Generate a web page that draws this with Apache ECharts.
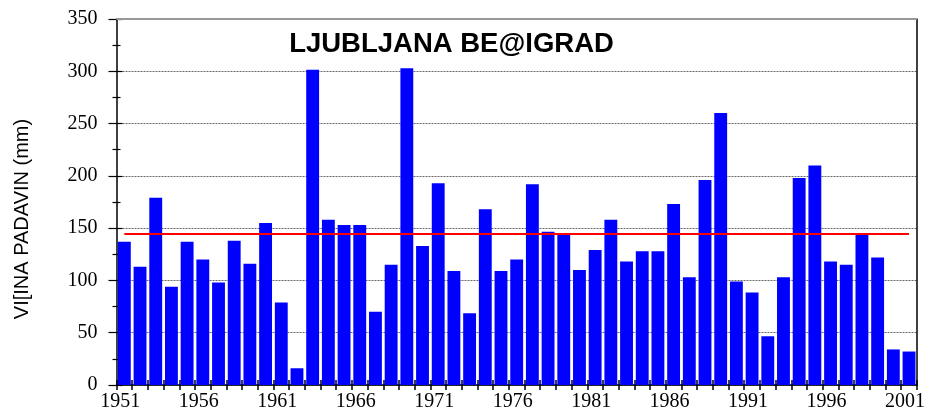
<!DOCTYPE html>
<html>
<head>
<meta charset="utf-8">
<script src="https://cdn.jsdelivr.net/npm/echarts@6/dist/echarts.min.js"></script>
<style>
html,body{margin:0;padding:0;background:#fff;}
#chart{width:928px;height:412px;}
</style>
</head>
<body>
<div id="chart"></div>
<script>
const YEARS = [];
for (let y = 1951; y <= 2001; y++) YEARS.push(String(y));
const PRECIP = [137,113,179,94,137,120,98,138,116,155,
  79,16,301.5,158,153,153,70,115,303,133,
  193,109,68.5,168,109,120,192,146.5,144.6,110,
  129,158,118,128,128,173,103,196,260,99,
  88.5,46.6,103,198,210,118,115,144.6,122,34,32];
const MEAN = 144.6;
const Y_TICKS = [0,50,100,150,200,250,300,350];
const TITLE = 'LJUBLJANA BE@IGRAD';
const Y_NAME = 'VI[INA PADAVIN (mm)';

const chart = echarts.init(document.getElementById('chart'), null, {renderer:'canvas'});
const serif = 'Liberation Serif';
const yMin = Y_TICKS[0], yMax = Y_TICKS[Y_TICKS.length-1], yInt = Y_TICKS[1]-Y_TICKS[0];

chart.setOption({
  animation: false,
  backgroundColor: '#fff',
  grid: {left: 116.5, right: 9, top: 19, bottom: 25, containLabel: false},
  graphic: [
    {type:'text', x: 451.5, y: 44, style:{text: TITLE, font: 'bold 27.5px "Liberation Sans"', fill:'#000', textAlign:'center', textVerticalAlign:'middle'}},
    {type:'text', x: 22, y: 219, rotation: Math.PI/2, style:{text: Y_NAME, font: '20px "Liberation Sans"', fill:'#000', textAlign:'center', textVerticalAlign:'middle'}}
  ],
  xAxis: [
    {type:'category', data: YEARS, position:'bottom', boundaryGap:true,
     axisLine:{show:true, lineStyle:{color:'#000', width:1.5}},
     axisTick:{show:true, interval:0, length:5, lineStyle:{color:'#000', width:1.5}},
     axisLabel:{interval:4, fontFamily:serif, fontSize:20, color:'#000', margin:7, padding:[0,8,0,0]},
     splitLine:{show:false}},
    {type:'category', data: YEARS, position:'bottom', boundaryGap:true,
     axisLine:{show:false},
     axisTick:{show:true, inside:true, interval:0, length:5, lineStyle:{color:'#000', width:1.5}},
     axisLabel:{show:false}, splitLine:{show:false}}
  ],
  yAxis: [
    {type:'value', min:yMin, max:yMax, interval:yInt, position:'left',
     axisLine:{show:true, lineStyle:{color:'#000', width:1.5}},
     axisTick:{show:true, length:8, lineStyle:{color:'#000', width:1.2}},
     minorTick:{show:true, splitNumber:2, length:4, lineStyle:{color:'#000', width:1.2}},
     axisLabel:{fontFamily:serif, fontSize:20, color:'#000', margin:19},
     splitLine:{show:true, lineStyle:{color:'#666', type:[2,1], width:1}}},
    {type:'value', min:yMin, max:yMax, interval:yInt, position:'left', offset:0,
     axisLine:{show:false},
     axisTick:{show:true, inside:true, length:6, lineStyle:{color:'#000', width:1.2}},
     minorTick:{show:true, splitNumber:2, length:4, lineStyle:{color:'#000', width:1.2}},
     axisLabel:{show:false}, splitLine:{show:false}},
    {type:'value', min:yMin, max:yMax, interval:yInt, position:'right', offset:0,
     axisLine:{show:true, lineStyle:{color:'#000', width:1.5}},
     axisTick:{show:false}, axisLabel:{show:false}, splitLine:{show:false}}
  ],
  series: [{
    type:'bar', data: PRECIP, xAxisIndex:0, yAxisIndex:0,
    barCategoryGap:'18%',
    itemStyle:{color:'#0000ff'},
    markLine:{
      silent:true, symbol:'none', label:{show:false},
      data:[
        {yAxis: yMax, lineStyle:{color:'#999', type:'solid', width:2}},
        [{coord:[YEARS[0], MEAN]}, {coord:[YEARS[YEARS.length-1], MEAN]}]
      ],
      lineStyle:{color:'#ff0000', type:'solid', width:2}
    }
  }]
});
</script>
</body>
</html>
